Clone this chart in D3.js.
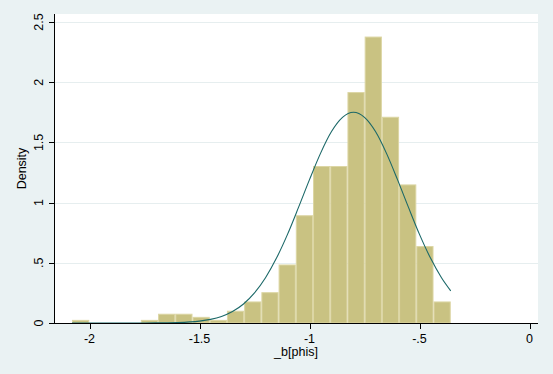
<!DOCTYPE html>
<html>
<head>
  <title>Histogram of _b[phis]</title>
  <style>
    body { margin: 0; background: #eaf2f3; }
    #chart { width: 553px; height: 374px; }
    text { font-family: "Liberation Sans", Arial, sans-serif; fill: #000; }
  </style>
</head>
<body>
  <div id="chart"></div>

  <script src="https://d3js.org/d3.v7.min.js"></script>
  <script>
    // Histogram: 22 bins starting at the data minimum
    const binStart = -2.0795;
    const binWidth = 0.07825;
    const density = [
      0.026, 0, 0, 0, 0.026, 0.077, 0.077, 0.051, 0.026, 0.102, 0.179,
      0.256, 0.486, 0.895, 1.304, 1.304, 1.918, 2.379, 1.713, 1.151, 0.639, 0.179
    ];

    // Normal density overlay
    const curveX = [
      -2.0795, -1.9, -1.8, -1.7, -1.6, -1.5, -1.45, -1.4, -1.35, -1.3, -1.25, -1.2,
      -1.15, -1.1, -1.05, -1.0, -0.95, -0.9, -0.85, -0.8, -0.75, -0.7, -0.65,
      -0.6, -0.55, -0.5, -0.45, -0.4, -0.358
    ];
    const curveY = [
      0, 0, 0.0001, 0.0007, 0.0037, 0.0157, 0.0301, 0.0548, 0.0954, 0.158, 0.250, 0.376,
      0.539, 0.736, 0.960, 1.191, 1.409, 1.590, 1.708, 1.750, 1.708, 1.590, 1.409,
      1.191, 0.960, 0.736, 0.539, 0.376, 0.267
    ];

    const xTicks = [-2, -1.5, -1, -0.5, 0];
    const xTickLabels = ["-2", "-1.5", "-1", "-.5", "0"];
    const yTicks = [0, 0.5, 1, 1.5, 2, 2.5];
    const yTickLabels = ["0", ".5", "1", "1.5", "2", "2.5"];

    const width = 553, height = 374;
    const plot = { left: 54, right: 538, top: 14, bottom: 323 };

    const svg = d3.select("#chart")
      .append("svg")
      .attr("width", width)
      .attr("height", height);

    svg.append("rect")
      .attr("width", width).attr("height", height)
      .attr("fill", "#eaf2f3");

    const x = d3.scaleLinear().domain([-2, 0]).range([89.5, 529.5]);
    const y = d3.scaleLinear().domain([0, 2.5]).range([323, 22]);

    // plot region
    svg.append("rect")
      .attr("x", plot.left).attr("y", plot.top)
      .attr("width", plot.right - plot.left)
      .attr("height", plot.bottom - plot.top)
      .attr("fill", "#ffffff");

    // gridlines
    svg.append("g")
      .selectAll("line")
      .data(yTicks.slice(1))
      .enter()
      .append("line")
      .attr("x1", plot.left).attr("x2", plot.right)
      .attr("y1", d => Math.round(y(d)) + 0.5)
      .attr("y2", d => Math.round(y(d)) + 0.5)
      .attr("stroke", "#e6eeef")
      .attr("stroke-width", 1);

    // bars
    svg.append("g")
      .selectAll("rect")
      .data(density.map((d, i) => ({ lo: binStart + i * binWidth, hi: binStart + (i + 1) * binWidth, d })))
      .enter()
      .filter(b => b.d > 0)
      .append("rect")
      .attr("x", b => x(b.lo) + 0.5)
      .attr("width", b => x(b.hi) - x(b.lo) - 1)
      .attr("y", b => y(b.d) + 0.5)
      .attr("height", b => y(0) - y(b.d) - 0.5)
      .attr("fill", "#c9c282")
      .attr("stroke", "#dcd6a4")
      .attr("stroke-width", 1);

    // normal curve
    const line = d3.line()
      .x(i => x(curveX[i]))
      .y(i => y(curveY[i]))
      .curve(d3.curveMonotoneX);

    svg.append("path")
      .attr("d", line(d3.range(curveX.length)))
      .attr("fill", "none")
      .attr("stroke", "#1b6868")
      .attr("stroke-width", 1.1);

    // y axis
    const yAxis = svg.append("g");
    yAxis.append("line")
      .attr("x1", plot.left + 0.5).attr("x2", plot.left + 0.5)
      .attr("y1", plot.top).attr("y2", plot.bottom + 0.5)
      .attr("stroke", "#000");
    yAxis.selectAll(".tick")
      .data(yTicks)
      .enter()
      .append("line")
      .attr("x1", plot.left - 5).attr("x2", plot.left)
      .attr("y1", d => Math.round(y(d)) + 0.5)
      .attr("y2", d => Math.round(y(d)) + 0.5)
      .attr("stroke", "#000");
    yAxis.selectAll("text")
      .data(yTicks)
      .enter()
      .append("text")
      .attr("transform", d => `translate(43,${y(d)}) rotate(-90)`)
      .attr("text-anchor", "middle")
      .style("font-size", "12.5px")
      .text((d, i) => yTickLabels[i]);

    // x axis
    const xAxis = svg.append("g");
    xAxis.append("line")
      .attr("x1", plot.left).attr("x2", plot.right)
      .attr("y1", plot.bottom + 0.5).attr("y2", plot.bottom + 0.5)
      .attr("stroke", "#000");
    xAxis.selectAll(".tick")
      .data(xTicks)
      .enter()
      .append("line")
      .attr("x1", d => Math.round(x(d)) + 0.5)
      .attr("x2", d => Math.round(x(d)) + 0.5)
      .attr("y1", plot.bottom)
      .attr("y2", plot.bottom + 6)
      .attr("stroke", "#000");
    xAxis.selectAll("text")
      .data(xTicks)
      .enter()
      .append("text")
      .attr("x", d => x(d))
      .attr("y", 343)
      .attr("text-anchor", "middle")
      .style("font-size", "12.5px")
      .text((d, i) => xTickLabels[i]);

    // axis titles
    svg.append("text")
      .attr("x", (plot.left + plot.right) / 2)
      .attr("y", 356)
      .attr("text-anchor", "middle")
      .style("font-size", "12.5px")
      .text("_b[phis]");

    svg.append("text")
      .attr("transform", `translate(26,${(plot.top + plot.bottom) / 2}) rotate(-90)`)
      .attr("text-anchor", "middle")
      .style("font-size", "12.5px")
      .text("Density");
  </script>
</body>
</html>
